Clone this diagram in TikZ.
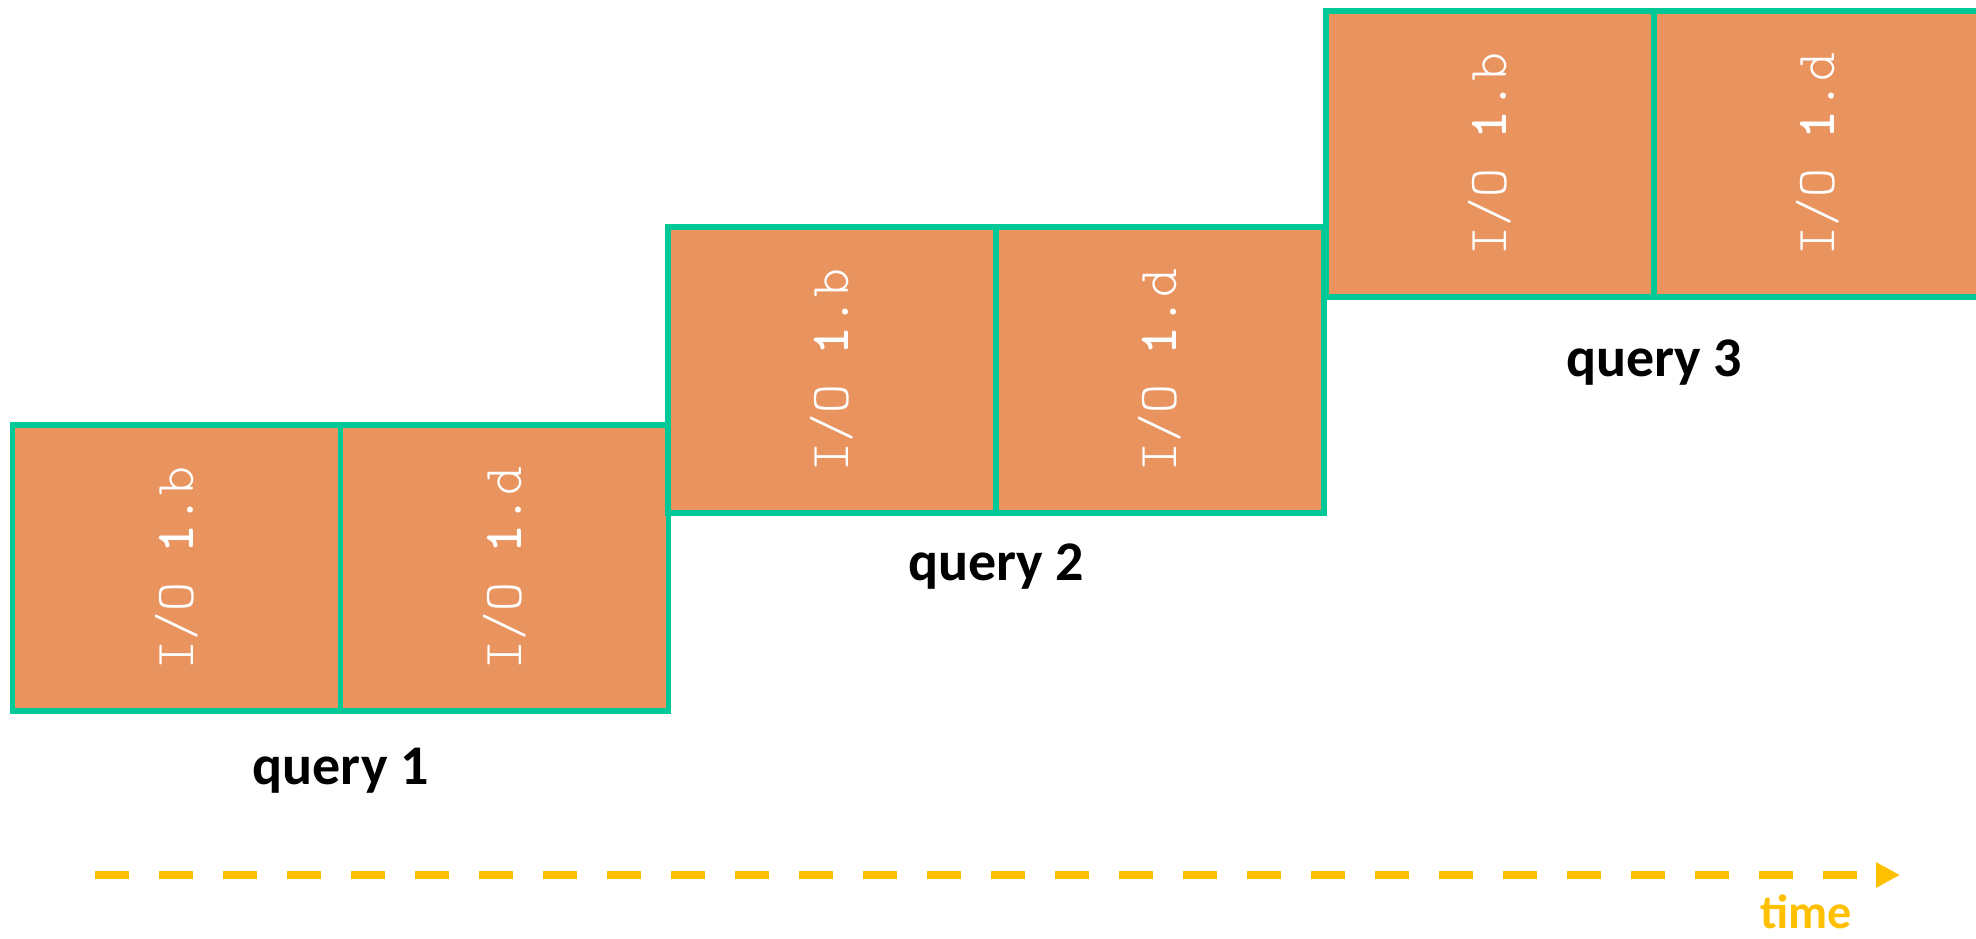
\documentclass[tikz,border=0pt]{standalone}
\usepackage{fontspec}
\newfontfamily\labelfont{Carlito}
\newfontfamily\iofont[BoldFont=lmmonolt10-bold.otf]{lmmonolt10-regular.otf}
\usetikzlibrary{arrows.meta}
\usetikzlibrary{positioning}
\definecolor{ioorange}{HTML}{E9935F}
\definecolor{qgreen}{HTML}{00C896}
\definecolor{timeyellow}{HTML}{FFC000}
\tikzset{%
    iobox/.style={draw=qgreen, fill=ioorange, line width=5.5pt,
        minimum width=328pt, minimum height=286pt, inner sep=0pt, outer sep=0pt},
    iotext/.style={text=white, rotate=90, inner sep=0pt,
        font={\iofont\fontsize{55}{60}\selectfont}},
    qlabel/.style={inner sep=0pt, font={\labelfont\bfseries\fontsize{56}{64}\selectfont}},
    timetext/.style={inner sep=0pt, text=timeyellow,
        font={\labelfont\bfseries\fontsize{48}{56}\selectfont}},
    timeline/.style={draw=timeyellow, line width=7.5pt, dash pattern=on 34pt off 30pt,
        -{Triangle[length=24pt,width=24pt]}},
}

\begin{document}
\begin{tikzpicture}[x=1pt,y=-1pt]
\path [use as bounding box, clip] (0,0) rectangle (1976,939);
% query 1
\node (q1b) [iobox, anchor=north west] at (12.6,425) {};
\node (q1d) [iobox, right=0pt of q1b] {};
% query 2
\node (q2b) [iobox, anchor=north west] at (668,227) {};
\node (q2d) [iobox, right=0pt of q2b] {};
% query 3
\node (q3b) [iobox, anchor=north west] at (1326,11) {};
\node (q3d) [iobox, right=0pt of q3b] {};
\foreach \q in {1,2,3} {
    \node (q\q bt) [iotext] at (q\q b) {I/O \textbf{1}.b};
    \node (q\q dt) [iotext] at (q\q d) {I/O \textbf{1}.d};
}
\node (q1label) [qlabel] at ([yshift=-60pt]q1b.south east) {query 1};
\node (q2label) [qlabel] at ([yshift=-54pt]q2b.south east) {query 2};
\node (q3label) [qlabel] at ([yshift=-66pt]q3b.south east) {query 3};
% time axis
\coordinate (tstart) at (95,875);
\coordinate (tend) at (1900,875);
\draw [timeline] (tstart) -- (tend);
\node (timelabel) [timetext] at (1806,912) {time};
\end{tikzpicture}
\end{document}
